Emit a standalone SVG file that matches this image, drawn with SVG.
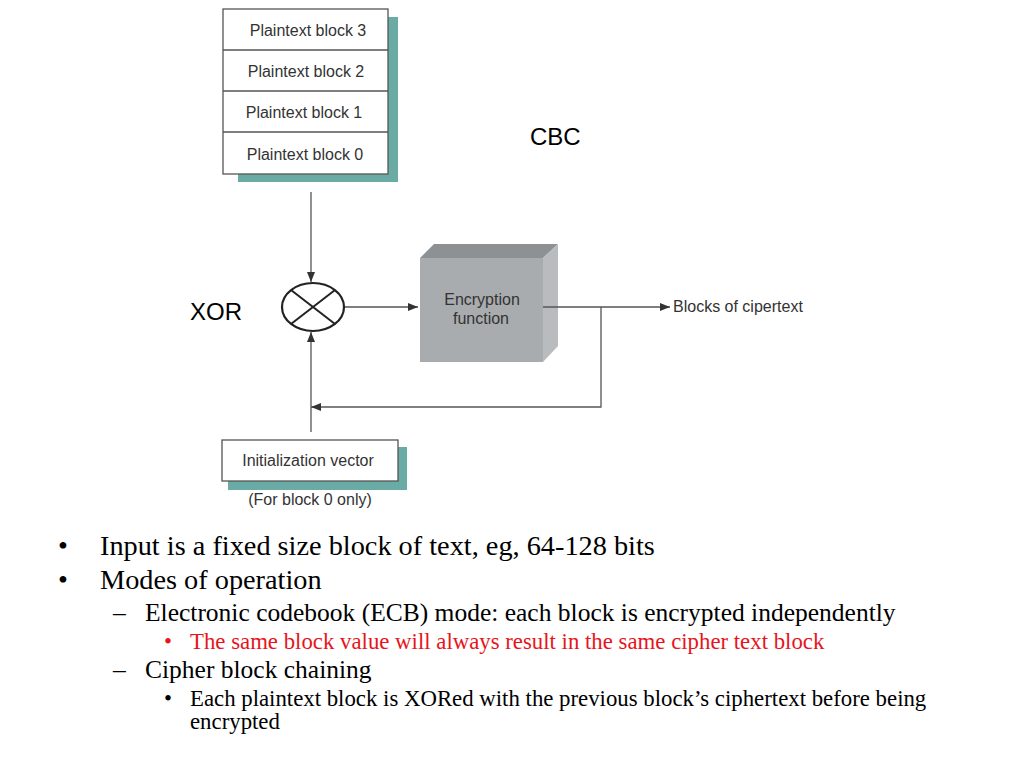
<svg xmlns="http://www.w3.org/2000/svg" width="1024" height="768" viewBox="0 0 1024 768">
<style>
.box{fill:#fff;stroke:#555;stroke-width:1.3}
.shadow{fill:#6aaba6}
.lbl{font-family:"Liberation Sans",Arial,sans-serif;font-size:16px;fill:#333}
.big{font-family:"Liberation Sans",Arial,sans-serif;font-size:24px;fill:#000}
.ln{fill:none;stroke:#555;stroke-width:1.3}
.tx{font-family:"Liberation Serif","Times New Roman",serif;fill:#000}
.red{fill:#e8141b}
</style>
<defs>
<marker id="ah" viewBox="0 0 10 10" refX="10" refY="5" markerWidth="10" markerHeight="10" markerUnits="userSpaceOnUse" orient="auto">
<path d="M0,1 L10,5 L0,9 Z" fill="#333"/>
</marker>
</defs>
<rect width="1024" height="768" fill="#fff"/>

<g id="plaintext-stack">
<rect class="shadow" x="238" y="17" width="160" height="165"/>
<rect class="box" x="223" y="9" width="165" height="165"/>
<line class="ln" x1="223" y1="50" x2="388" y2="50"/>
<line class="ln" x1="223" y1="91" x2="388" y2="91"/>
<line class="ln" x1="223" y1="132" x2="388" y2="132"/>
<text class="lbl" x="308" y="36" text-anchor="middle">Plaintext block 3</text>
<text class="lbl" x="306" y="77" text-anchor="middle">Plaintext block 2</text>
<text class="lbl" x="304" y="118" text-anchor="middle">Plaintext block 1</text>
<text class="lbl" x="305" y="160" text-anchor="middle">Plaintext block 0</text>
</g>

<g id="xor">
<ellipse cx="313" cy="307" rx="31" ry="24" fill="#fff" stroke="#222" stroke-width="2.2"/>
<line x1="291" y1="290" x2="335" y2="324" stroke="#222" stroke-width="2"/>
<line x1="335" y1="290" x2="291" y2="324" stroke="#222" stroke-width="2"/>
</g>

<g id="encryption-function">
<polygon points="420,258 434,244 558,244 543,258" fill="#8e9193"/>
<polygon points="543,258 558,244 558,346 543,362" fill="#b9bcbe"/>
<rect x="420" y="258" width="123" height="104" fill="#a9acae"/>
<text class="lbl" x="482" y="305" text-anchor="middle">Encryption</text>
<text class="lbl" x="481" y="324" text-anchor="middle">function</text>
</g>

<g id="iv">
<rect class="shadow" x="228" y="447" width="179" height="43"/>
<rect class="box" x="222" y="440" width="176" height="41"/>
<text class="lbl" x="308" y="466" text-anchor="middle">Initialization vector</text>
<text class="lbl" x="310" y="505" text-anchor="middle">(For block 0 only)</text>
</g>

<g id="connectors">
<line class="ln" x1="311" y1="192" x2="311" y2="282" marker-end="url(#ah)"/>
<line class="ln" x1="345" y1="307" x2="418" y2="307" marker-end="url(#ah)"/>
<line class="ln" x1="543" y1="307" x2="670" y2="307" marker-end="url(#ah)"/>
<polyline class="ln" points="601,307 601,407 311,407" marker-end="url(#ah)"/>
<line class="ln" x1="311" y1="432" x2="311" y2="332" marker-end="url(#ah)"/>
</g>

<text class="lbl" x="673" y="312">Blocks of cipertext</text>
<text class="big" x="530" y="145">CBC</text>
<text class="big" x="190" y="320">XOR</text>

<g id="bullets">
<text class="tx" x="58" y="555" font-size="28.3">•</text>
<text class="tx" x="100" y="555" font-size="28.3">Input is a fixed size block of text, eg, 64-128 bits</text>
<text class="tx" x="58" y="589" font-size="28.3">•</text>
<text class="tx" x="100" y="589" font-size="28.3">Modes of operation</text>
<text class="tx" x="113" y="621" font-size="25.5">–</text>
<text class="tx" x="145" y="621" font-size="25.5">Electronic codebook (ECB) mode: each block is encrypted independently</text>
<text class="tx red" x="164" y="649" font-size="22.8">•</text>
<text class="tx red" x="190" y="649" font-size="22.8">The same block value will always result in the same cipher text block</text>
<text class="tx" x="113" y="678" font-size="25.5">–</text>
<text class="tx" x="145" y="678" font-size="25.5">Cipher block chaining</text>
<text class="tx" x="164" y="706" font-size="22.8">•</text>
<text class="tx" x="190" y="706" font-size="22.8">Each plaintext block is XORed with the previous block’s ciphertext before being</text>
<text class="tx" x="190" y="729" font-size="22.8">encrypted</text>
</g>
</svg>
